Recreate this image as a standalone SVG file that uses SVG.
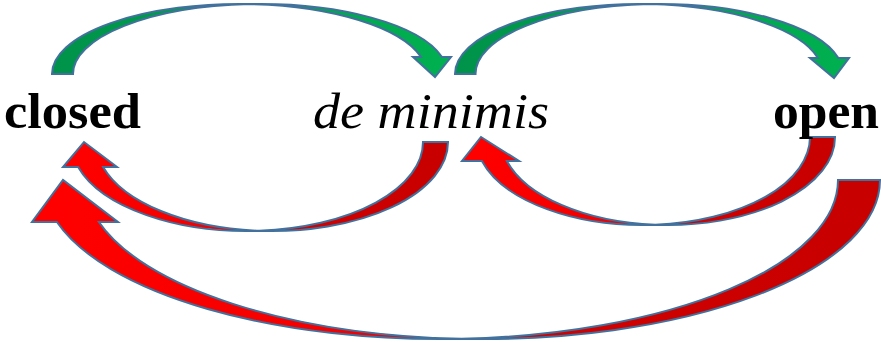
<svg xmlns="http://www.w3.org/2000/svg" width="881" height="342" viewBox="0 0 881 342">
  <style>
    .lbl { font-family: "Liberation Serif", "Times New Roman", serif; font-size: 50px; fill: #000; }
    .b { font-weight: bold; }
    .it { font-style: italic; }
    .arr { stroke: #41719C; stroke-width: 2; stroke-linejoin: miter; }
    .g { fill: url(#gGreen); }
    .r { fill: url(#gRed); }
  </style>
  <defs>
    <linearGradient id="gGreen" x1="0" y1="0" x2="1" y2="0">
      <stop offset="0" stop-color="#00924A"/>
      <stop offset="0.5" stop-color="#00A24C"/>
      <stop offset="1" stop-color="#00B050"/>
    </linearGradient>
    <linearGradient id="gRed" x1="0" y1="0" x2="1" y2="0">
      <stop offset="0" stop-color="#FF0000"/>
      <stop offset="0.45" stop-color="#F00000"/>
      <stop offset="0.6" stop-color="#D00000"/>
      <stop offset="1" stop-color="#C80000"/>
    </linearGradient>
  </defs>

  <g id="connectors">
    <path id="closed-to-deminimis" class="arr g" d="M52,74 A187.3,70 0 0 1 249.8,4.1 A187.3,70 0 0 1 442,57 L451,57 L435,77 L413,57 L421,57 A187.3,70 0 0 0 249.8,4.1 A187.3,70 0 0 0 73,74 Z"/>
    <path id="deminimis-to-open" class="arr g" d="M455,74 A183.9,70 0 0 1 649.2,4.1 A183.9,70 0 0 1 838.4,58 L849,58 L834,78 L810,58 L817.9,58 A183.9,70 0 0 0 649.2,4.1 A183.9,70 0 0 0 475.5,74 Z"/>
    <path id="deminimis-to-closed" class="arr r" d="M448,142 A176,89 0 0 1 259.5,230.8 A176,89 0 0 1 78.1,167 L63,167 L84,142 L117,167 L103.1,167 A176,89 0 0 0 259.5,230.8 A176,89 0 0 0 423,142 Z"/>
    <path id="open-to-deminimis" class="arr r" d="M835,137 A167.2,88 0 0 1 655.3,224.8 A167.2,88 0 0 1 481.9,161 L462,161 L481,137 L519,161 L506.9,161 A167.2,88 0 0 0 655.3,224.8 A167.2,88 0 0 0 810,137 Z"/>
    <path id="open-to-closed" class="arr r" d="M880,180 A397.6,159 0 0 1 461.4,338.8 A397.6,159 0 0 1 56.9,222 L32,222 L63,180 L118,222 L98.9,222 A397.6,159 0 0 0 461.4,338.8 A397.6,159 0 0 0 838,180 Z"/>
  </g>

  <g id="closed">
    <text class="lbl b" x="4" y="128" textLength="137" lengthAdjust="spacingAndGlyphs">closed</text>
  </g>
  <g id="deminimis">
    <text class="lbl it" x="313" y="128" textLength="236" lengthAdjust="spacingAndGlyphs">de minimis</text>
  </g>
  <g id="open">
    <text class="lbl b" x="773" y="128" textLength="106" lengthAdjust="spacingAndGlyphs">open</text>
  </g>
</svg>
